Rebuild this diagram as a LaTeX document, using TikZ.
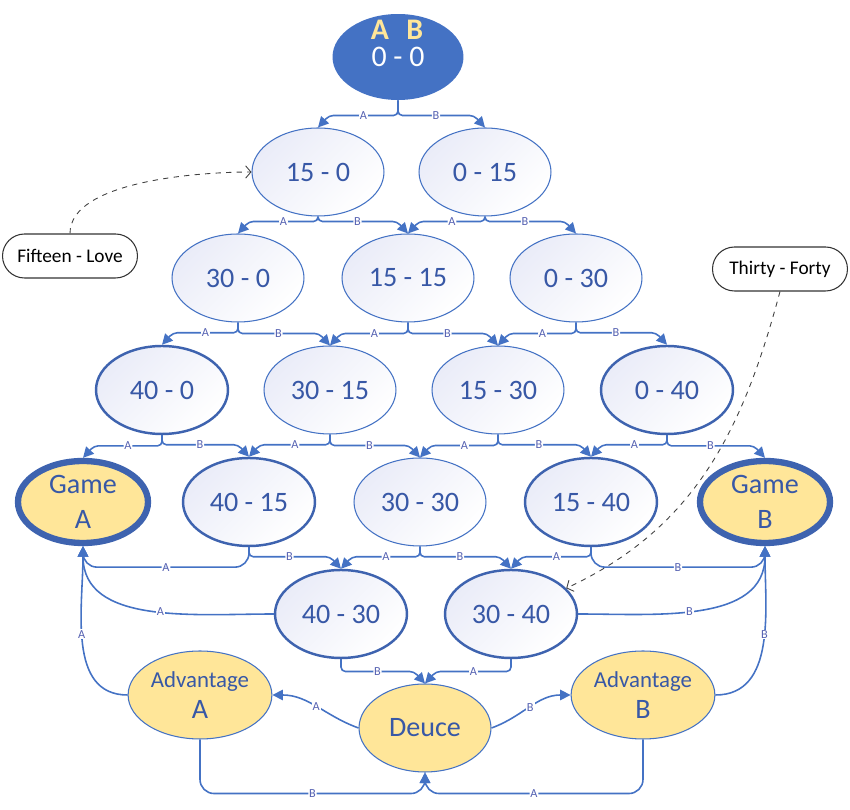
\documentclass[tikz,border=0pt]{standalone}
\usepackage{fontspec}
\setmainfont{Carlito}
\usepackage{tikz}
\usetikzlibrary{arrows.meta,shapes.geometric,calc}
\definecolor{navy}{RGB}{68,114,196}
\definecolor{deepblue}{RGB}{62,99,175}
\definecolor{ink}{RGB}{56,88,166}
\definecolor{haze}{RGB}{234,236,248}
\definecolor{gold}{RGB}{255,230,153}
\definecolor{tagc}{RGB}{86,98,178}

\begin{document}
\begin{tikzpicture}[x=0.02cm,y=0.02cm]
        \tikzset{
        oval/.style={ellipse, minimum width=2.64cm, minimum height=1.76cm, inner sep=1pt, align=center, text=ink, font=\fontsize{16}{20}\selectfont},
        sc/.style={oval, draw=navy, line width=0.6pt, top color=haze, bottom color=white, shading angle=45},
        sc2/.style={sc, draw=deepblue, line width=1.4pt},
        root/.style={oval, fill=navy, text=white, minimum width=2.62cm, minimum height=1.72cm, font=\fontsize{17}{20}\selectfont},
        hdr/.style={text=gold, font=\fontsize{17}{20}\selectfont\bfseries},
        game/.style={oval, fill=gold, draw=deepblue, line width=3.6pt, minimum width=2.6cm, minimum height=1.64cm},
        adv/.style={oval, fill=gold, draw=navy, line width=0.6pt},
        note/.style={draw=black!80, line width=0.6pt, rounded corners=0.44cm, minimum width=2.7cm, minimum height=0.88cm, font=\fontsize{11}{13}\selectfont},
        mv/.style={draw=navy, line width=0.9pt, -{Triangle[length=6pt,width=6pt,color=navy]}},
        lf/.style={rounded corners=2.5pt, to path={(\tikztostart.south) |- ($(\tikztotarget.north)+(11,12)$) \tikztonodes -- (\tikztotarget.north)}},
        rt/.style={rounded corners=2.5pt, to path={(\tikztostart.south) |- ($(\tikztotarget.north)+(-11,12)$) \tikztonodes -- (\tikztotarget.north)}},
        dn/.style={rounded corners=8pt, to path={(\tikztostart.south) |- ($(\tikztotarget.south)+(0,-21)$) \tikztonodes -- (\tikztotarget.south)}},
        tag/.style={fill=white, inner sep=0.5pt, text=tagc, font=\fontsize{7}{8}\selectfont, pos=0.75},
        aside/.style={dashed, draw=black!75, line width=0.5pt, -{Straight Barb[length=3pt,width=7pt,color=black!75]}},
        }
        \useasboundingbox (0,0) rectangle (850,-810);

        \node[root] (s00) at (398,-57) {0 - 0};
        \node[hdr] (hdr) at (397,-30) {A\hspace{10pt}B};
        \node[sc] (s150) at (318,-172) {15 - 0};
        \node[sc] (s015) at (485,-172) {0 - 15};
        \node[sc] (s300) at (238,-278) {30 - 0};
        \node[sc] (s1515) at (408,-278) {15 - 15};
        \node[sc] (s030) at (576,-278) {0 - 30};
        \node[sc2] (s400) at (162,-390) {40 - 0};
        \node[sc] (s3015) at (330,-390) {30 - 15};
        \node[sc] (s1530) at (498,-390) {15 - 30};
        \node[sc2] (s040) at (667,-390) {0 - 40};
        \node[game] (gA) at (83,-502) {Game\\A};
        \node[sc2] (s4015) at (249,-502) {40 - 15};
        \node[sc] (s3030) at (420,-502) {30 - 30};
        \node[sc2] (s1540) at (591,-502) {15 - 40};
        \node[game] (gB) at (765,-502) {Game\\B};
        \node[sc2] (s4030) at (341,-614) {40 - 30};
        \node[sc2] (s3040) at (511,-614) {30 - 40};
        \node[adv] (advA) at (200,-695) {{\fontsize{13}{15}\selectfont Advantage}\\[-2pt]A};
        \node[adv] (deuce) at (425,-728) {Deuce};
        \node[adv] (advB) at (643,-695) {{\fontsize{13}{15}\selectfont Advantage}\\[-2pt]B};
        \node[note] (love) at (70,-256) {Fifteen - Love};
        \node[note] (forty) at (780,-269) {Thirty - Forty};

        \draw[mv] (s00) edge[lf] node[tag] {A} (s150) edge[rt] node[tag] {B} (s015);
        \draw[mv] (s150) edge[lf] node[tag] {A} (s300) edge[rt] node[tag] {B} (s1515);
        \draw[mv] (s015) edge[lf] node[tag] {A} (s1515) edge[rt] node[tag] {B} (s030);
        \draw[mv] (s300) edge[lf] node[tag] {A} (s400) edge[rt] node[tag] {B} (s3015);
        \draw[mv] (s1515) edge[lf] node[tag] {A} (s3015) edge[rt] node[tag] {B} (s1530);
        \draw[mv] (s030) edge[lf] node[tag] {A} (s1530) edge[rt] node[tag] {B} (s040);
        \draw[mv] (s400) edge[lf] node[tag] {A} (gA) edge[rt] node[tag] {B} (s4015);
        \draw[mv] (s3015) edge[lf] node[tag] {A} (s4015) edge[rt] node[tag] {B} (s3030);
        \draw[mv] (s1530) edge[lf] node[tag] {A} (s3030) edge[rt] node[tag] {B} (s1540);
        \draw[mv] (s040) edge[lf] node[tag] {A} (s1540) edge[rt] node[tag] {B} (gB);
        \draw[mv] (s4015) edge[dn] node[tag] {A} (gA) edge[rt] node[tag] {B} (s4030);
        \draw[mv] (s3030) edge[lf] node[tag] {A} (s4030) edge[rt] node[tag] {B} (s3040);
        \draw[mv] (s1540) edge[lf] node[tag] {A} (s3040) edge[dn] node[tag] {B} (gB);
        \draw[mv] (s4030) edge[rt] node[tag] {B} (deuce);
        \draw[mv] (s3040) edge[lf] node[tag] {A} (deuce);
        \draw[mv] (s4030.west) to[out=180,in=-90] node[tag,pos=0.45] {A} (gA.south);
        \draw[mv] (s3040.east) to[out=0,in=-90] node[tag,pos=0.45] {B} (gB.south);
        \draw[mv] (advA.west) to[out=180,in=-90] node[tag,pos=0.55] {A} (gA.south);
        \draw[mv] (advB.east) to[out=0,in=-90] node[tag,pos=0.55] {B} (gB.south);
        \draw[mv] (deuce.west) to[out=160,in=0] node[tag,pos=0.5] {A} (advA.east);
        \draw[mv] (deuce.east) to[out=20,in=180] node[tag,pos=0.5] {B} (advB.west);
        \draw[mv] (advA) edge[dn] node[tag] {B} (deuce);
        \draw[mv] (advB) edge[dn] node[tag] {A} (deuce);

        \draw[aside] (love.north) to[out=90,in=180,looseness=0.7] (s150.west);
        \draw[aside] (forty.south) to[out=-105,in=25] (s3040.25);
\end{tikzpicture}
\end{document}
